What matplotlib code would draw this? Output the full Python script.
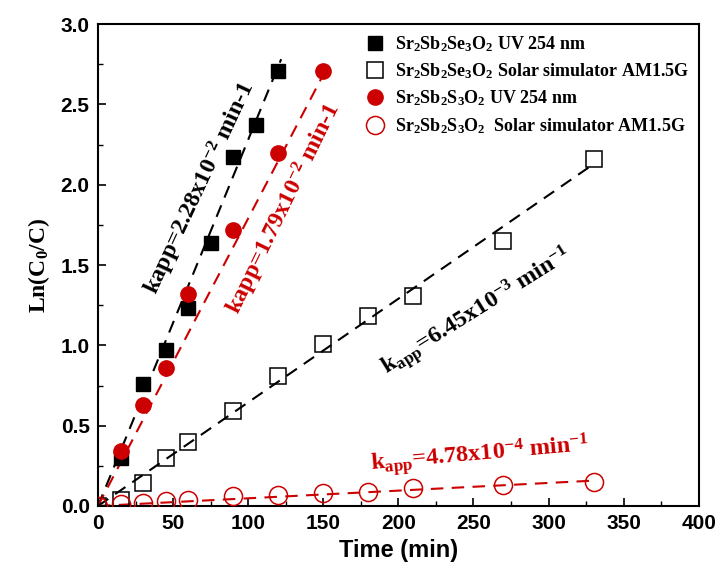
import numpy as np
import matplotlib
matplotlib.use("Agg")
import matplotlib.pyplot as plt
from matplotlib.ticker import MultipleLocator

plt.rcParams['mathtext.fontset'] = 'custom'
plt.rcParams['mathtext.rm'] = 'Liberation Serif:bold'
plt.rcParams['mathtext.it'] = 'Liberation Serif:bold'
plt.rcParams['mathtext.bf'] = 'Liberation Serif:bold'

# data
t_se_uv = [15, 30, 45, 60, 75, 90, 105, 120]
ln_se_uv = [0.30, 0.76, 0.97, 1.23, 1.64, 2.17, 2.37, 2.71]

t_s_uv = [15, 30, 45, 60, 90, 120, 150]
ln_s_uv = [0.34, 0.63, 0.86, 1.32, 1.72, 2.20, 2.71]

t_se_sol = [0, 15, 30, 45, 60, 90, 120, 150, 180, 210, 270, 330]
ln_se_sol = [0.0, 0.04, 0.14, 0.30, 0.40, 0.59, 0.81, 1.01, 1.18, 1.31, 1.65, 2.16]

t_s_sol = [0, 15, 30, 45, 60, 90, 120, 150, 180, 210, 270, 330]
ln_s_sol = [0.0, 0.01, 0.02, 0.03, 0.04, 0.06, 0.07, 0.08, 0.09, 0.11, 0.13, 0.15]

# apparent rate constants (min^-1) and fit line ranges
k_se_uv, k_s_uv, k_se_sol, k_s_sol = 2.28e-2, 1.79e-2, 6.45e-3, 4.78e-4
fit_end = [122, 150, 330, 330]

red = "#cc0000"

fig = plt.figure(figsize=(7.22, 5.88), dpi=100)
ax = fig.add_axes([0.1357, 0.1395, 0.832, 0.8195])

# fit lines
for k, tend, c in zip([k_se_uv, k_s_uv, k_se_sol, k_s_sol], fit_end, ["black", red, "black", red]):
    tt = np.array([0, tend])
    ax.plot(tt, k * tt, ls=(0, (6, 4)), color=c, lw=1.5, zorder=2)

ax.plot(t_se_uv, ln_se_uv, ls="none", marker="s", ms=10, color="black",
        label=r"Sr$_2$Sb$_2$Se$_3$O$_2$ UV 254 nm", zorder=3)
ax.plot(t_se_sol, ln_se_sol, ls="none", marker="s", ms=12, mfc="none", mec="black", mew=1.1,
        label=r"Sr$_2$Sb$_2$Se$_3$O$_2$ Solar simulator AM1.5G", zorder=3)
ax.plot(t_s_uv, ln_s_uv, ls="none", marker="o", ms=11, color=red,
        label=r"Sr$_2$Sb$_2$S$_3$O$_2$ UV 254 nm", zorder=3)
ax.plot(t_s_sol, ln_s_sol, ls="none", marker="o", ms=13, mfc="none", mec=red, mew=1.1,
        label=r"Sr$_2$Sb$_2$S$_3$O$_2$  Solar simulator AM1.5G", zorder=3)

ax.set_xlim(0, 400)
ax.set_ylim(0, 3.0)
ax.xaxis.set_major_locator(MultipleLocator(50))
ax.xaxis.set_minor_locator(MultipleLocator(25))
ax.yaxis.set_major_locator(MultipleLocator(0.5))
ax.yaxis.set_minor_locator(MultipleLocator(0.25))
ax.set_xticks([0, 50, 100, 150, 200, 250, 300, 350, 400])
ax.set_xticklabels(["0", "50", "100", "150", "200", "250", "300", "350", "400"])
ax.tick_params(which="both", direction="in", top=False, right=False)
ax.tick_params(which="major", length=6, width=1.2, labelsize=15, pad=6)
ax.tick_params(which="minor", length=3.5, width=1.0)
for lab in ax.get_xticklabels() + ax.get_yticklabels():
    lab.set_fontfamily("Liberation Sans")
    lab.set_fontweight("bold")
for sp in ax.spines.values():
    sp.set_linewidth(1.5)

ax.set_xlabel("Time (min)", fontsize=17, fontweight="bold", family="Liberation Sans", labelpad=4)
ax.set_ylabel(r"Ln(C$_0$/C)", fontsize=17, fontweight="bold", family="Liberation Serif", labelpad=6)

tkw = dict(fontsize=17.5, fontweight="bold", family="Liberation Serif", ha="center", va="center")
ax.text(68, 1.98, r"kapp=2.28x10$^{-2}$ min-1", rotation=65, color="black", **tkw)
ax.text(124, 1.85, r"kapp=1.79x10$^{-2}$ min-1", rotation=64, color=red, **tkw)
ax.text(252, 1.21, r"k$_{app}$=6.45x10$^{-3}$ min$^{-1}$", rotation=32, color="black", **tkw)
ax.text(254, 0.32, r"k$_{app}$=4.78x10$^{-4}$ min$^{-1}$", rotation=5, color=red, **tkw)

ax.legend(loc="upper right", bbox_to_anchor=(1.0, 1.0), frameon=False,
          prop={"family": "Liberation Serif", "weight": "bold", "size": 13},
          handletextpad=0.5, labelspacing=0.42, borderaxespad=0.15, handlelength=1.2)

fig.savefig("out.png", dpi=100)
